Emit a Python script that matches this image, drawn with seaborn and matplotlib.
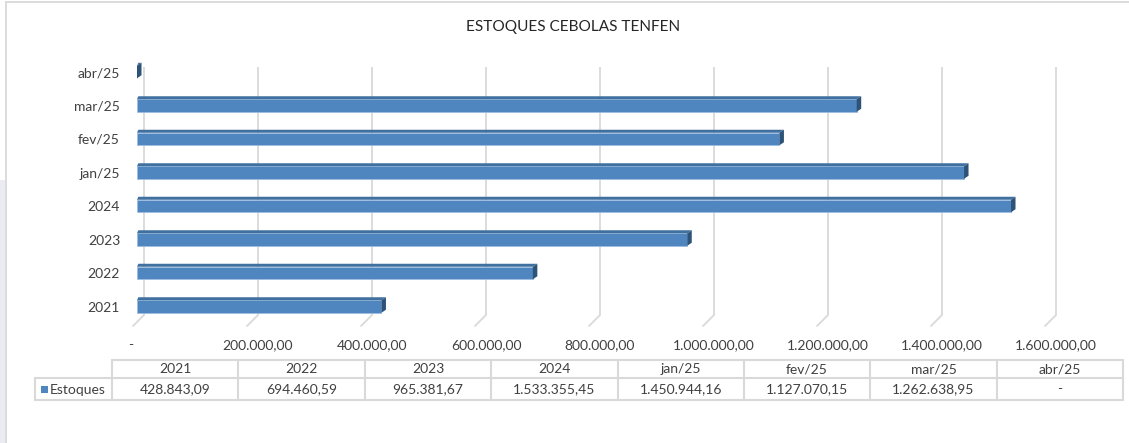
import numpy as np
import pandas as pd
import matplotlib
matplotlib.use("Agg")
import matplotlib.pyplot as plt
from matplotlib.patches import Polygon, Rectangle
from matplotlib.lines import Line2D
import seaborn as sns

# ---- data ----
categories = ["2021", "2022", "2023", "2024", "jan/25", "fev/25", "mar/25", "abr/25"]
estoques = [428843.09, 694460.59, 965381.67, 1533355.45, 1450944.16, 1127070.15, 1262638.95, 0.0]
tick_values = [0, 200000, 400000, 600000, 800000, 1000000, 1200000, 1400000, 1600000]
series_name = "Estoques"
title = "ESTOQUES CEBOLAS TENFEN"


def fmt_br(v):
    if v == 0:
        return "-"
    s = f"{v:,.2f}"
    return s.replace(",", "X").replace(".", ",").replace("X", ".")


sns.set_theme(style="white")
FONT = ["Lato", "DejaVu Sans"]
plt.rcParams["font.family"] = FONT
TXT = "#404040"
FS = 10

W, H = 1129, 443
fig = plt.figure(figsize=(W / 100, H / 100), dpi=100)
fig.patch.set_facecolor("white")

# pixel geometry
s = 114 / 200000.0          # px per unit
x0_px = 137                 # front zero
row_px = 33.5
top_row_px = 72             # center of first (top) row
xlim = (-26000, 1720000)
ylim = (7.9, -0.9)          # inverted
left_px = x0_px + xlim[0] * s
right_px = x0_px + xlim[1] * s
top_px = top_row_px + ylim[1] * row_px
bot_px = top_row_px + ylim[0] * row_px
ax = fig.add_axes([left_px / W, 1 - bot_px / H, (right_px - left_px) / W, (bot_px - top_px) / H])

order = categories[::-1]
df = pd.DataFrame({"cat": categories, "val": estoques})

# gridlines (back plane) with 3D floor diagonals
back_dx = 7 / s
for t in tick_values:
    xb = t + back_dx
    ax.plot([xb, xb], [(67 - top_row_px) / row_px, (315 - top_row_px) / row_px],
            color="#d9d9d9", lw=1.3, zorder=0, solid_capstyle="butt")
    ax.plot([xb, t + (133 - x0_px) / s], [(315 - top_row_px) / row_px, (326 - top_row_px) / row_px],
            color="#d9d9d9", lw=1.3, zorder=0)

bar_h = 12.5 / row_px
sns.barplot(data=df, x="val", y="cat", order=order, orient="h", color="#4f86bf",
            saturation=1, width=bar_h, ax=ax, zorder=2, edgecolor="#9dbde0", linewidth=0.6)

dx = 4.5 / s
dy = 3.0 / row_px
for i, cat in enumerate(order):
    v = estoques[categories.index(cat)]
    yt = i - bar_h / 2
    yb = i + bar_h / 2
    top = Polygon([(0, yt), (v, yt), (v + dx, yt - dy), (dx * 0.3, yt - dy)],
                  closed=True, facecolor="#40709f", edgecolor="none", zorder=3)
    side = Polygon([(v, yt), (v + dx, yt - dy), (v + dx, yb - dy), (v, yb)],
                   closed=True, facecolor="#2d5378", edgecolor="none", zorder=3)
    ax.add_patch(top)
    ax.add_patch(side)

ax.set_xlim(*xlim)
ax.set_ylim(*ylim)
ax.set_xlabel("")
ax.set_ylabel("")
ax.set_xticks([])
for sp in ax.spines.values():
    sp.set_visible(False)
ax.tick_params(axis="y", length=0, pad=1.5, labelsize=FS, labelcolor=TXT)
for lab in ax.get_yticklabels():
    lab.set_fontfamily(FONT)

# x tick labels
lab_y = (345 - top_row_px) / row_px
for t in tick_values:
    xl = t + back_dx if t != 0 else t + (131 - x0_px) / s
    ax.text(xl, lab_y, fmt_br(t), ha="center", va="center", fontsize=FS,
            color=TXT, clip_on=False)

# title
fig.text(573 / W, 1 - 27 / H, title, ha="center", va="center", fontsize=11.1, color="#262626")

# ---- data table ----
def fx(p):
    return p / W

def fy(p):
    return 1 - p / H

grid_c = "#d9d9d9"
col0 = 112
colw = (1123 - 112) / len(categories)
y_top, y_mid, y_bot = 360, 378, 400
def line(xa, ya, xb, yb):
    fig.add_artist(Line2D([fx(xa), fx(xb)], [fy(ya), fy(yb)], color=grid_c, lw=1.5))

line(col0, y_top, 1123, y_top)
line(35, y_mid, 1123, y_mid)
line(35, y_bot, 1123, y_bot)
line(35, y_mid, 35, y_bot)
for k in range(len(categories) + 1):
    line(col0 + k * colw, y_top, col0 + k * colw, y_bot)
for k, (c, v) in enumerate(zip(categories, estoques)):
    cx = col0 + (k + 0.5) * colw
    fig.text(fx(cx), fy(369), c, ha="center", va="center", fontsize=FS, color=TXT)
    fig.text(fx(cx), fy(389.5), fmt_br(v), ha="center", va="center", fontsize=FS, color=TXT)
fig.add_artist(Rectangle((fx(40.5), fy(392.5)), 7 / W, 7 / H, facecolor="#4f86bf",
                         edgecolor="none", transform=fig.transFigure))
fig.text(fx(50), fy(389.5), series_name, ha="left", va="center", fontsize=FS, color=TXT)

# chart frame + left strip
fig.add_artist(Rectangle((0, 0), 5 / W, 1 - 180 / H, facecolor="#ebebf3", edgecolor="none",
                         transform=fig.transFigure))
fig.add_artist(Line2D([fx(5.5), fx(5.5)], [fy(1.5), 0], color="#d9d9d9", lw=1.3))
fig.add_artist(Line2D([fx(5.5), 1], [fy(1.5), fy(1.5)], color="#d9d9d9", lw=1.3))

fig.savefig("out.png", dpi=100, facecolor="white")
